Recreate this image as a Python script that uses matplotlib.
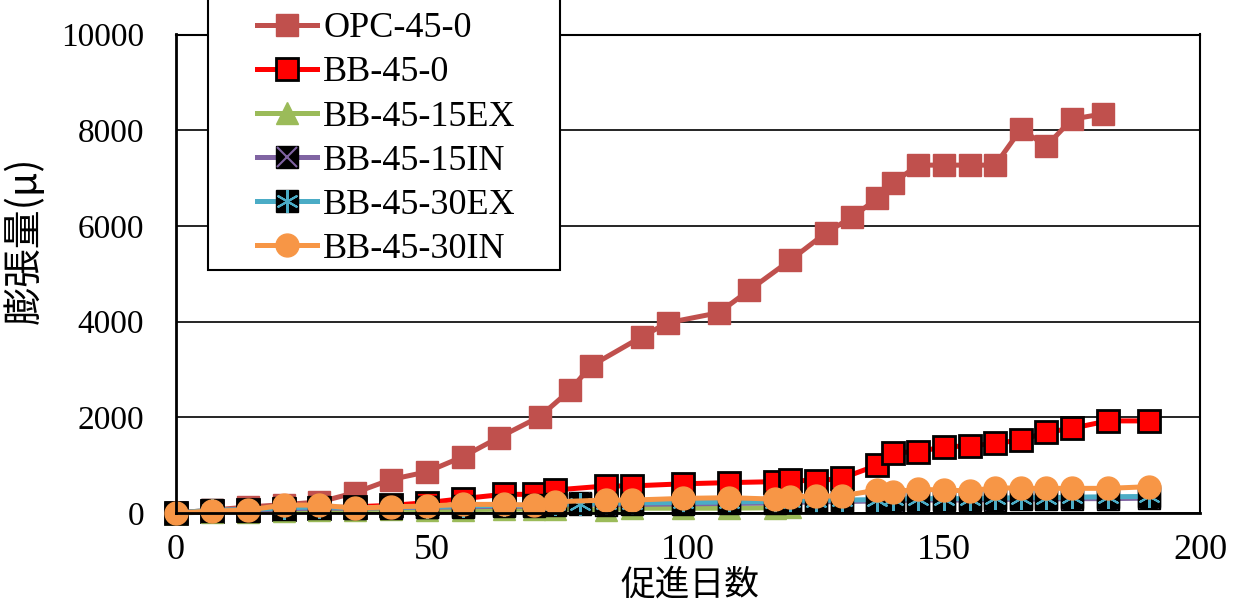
import matplotlib.pyplot as plt
from matplotlib.legend_handler import HandlerTuple
from matplotlib.patches import Rectangle

# expansion (micro-strain) vs. accelerated curing days
opc_days = [0, 7, 14, 21, 28, 35, 42, 49, 56, 63, 71, 77, 81, 91, 96, 106, 112,
            120, 127, 132, 137, 140, 145, 150, 155, 160, 165, 170, 175, 181]
opc_vals = [0, 60, 125, 175, 230, 425, 700, 860, 1175, 1575, 2010, 2570, 3070,
            3685, 3975, 4185, 4660, 5285, 5860, 6180, 6575, 6900, 7270, 7270,
            7270, 7270, 8020, 7670, 8230, 8340]

bb_days = [0, 7, 14, 21, 28, 35, 42, 49, 56, 64, 70, 74, 84, 89, 99, 108, 117,
           120, 125, 130, 137, 140, 145, 150, 155, 160, 165, 170, 175, 182, 190]
bb0_vals = [0, 40, 60, 80, 100, 130, 160, 215, 300, 390, 390, 480, 565, 565,
            610, 635, 655, 685, 670, 725, 1000, 1260, 1280, 1385, 1400, 1455,
            1525, 1685, 1770, 1925, 1925]
in30_vals = [0, 40, 60, 165, 165, 100, 130, 145, 180, 180, 165, 235, 270, 270,
             305, 320, 290, 340, 355, 355, 480, 445, 495, 480, 460, 530, 515,
             515, 515, 515, 550]

ex15_days = [0, 7, 14, 21, 28, 35, 42, 49, 56, 64, 70, 74, 84, 89, 99, 108, 117, 120]
ex15_vals = [0, 20, 30, 50, 60, 70, 80, 70, 70, 80, 80, 90, 60, 100, 100, 100,
             110, 120]

sq_days = [0, 7, 14, 21, 28, 35, 42, 49, 56, 64, 70, 74, 79, 84, 89, 99, 108,
           117, 120, 125, 130, 137, 140, 145, 150, 155, 160, 165, 170, 175, 182, 190]
in15_vals = [0, 40, 50, 90, 100, 100, 110, 120, 130, 140, 140, 160, 200, 170,
             180, 190, 200, 210, 220, 230, 240, 250, 260, 270, 270, 270, 280,
             290, 290, 300, 300, 310]
ex30_vals = [0, 60, 70, 110, 130, 110, 120, 130, 150, 160, 160, 180, 190, 200,
             210, 220, 230, 240, 250, 260, 270, 280, 290, 300, 300, 300, 310,
             320, 320, 330, 340, 345]

labels = ['OPC-45-0', 'BB-45-0', 'BB-45-15EX', 'BB-45-15IN', 'BB-45-30EX',
          'BB-45-30IN']

plt.rcParams['font.family'] = ['Liberation Serif', 'Noto Sans CJK JP']
plt.rcParams['font.size'] = 24

W, H = 1237, 602
fig = plt.figure(figsize=(W / 100, H / 100), dpi=100)
ax = fig.add_axes([176 / W, 1 - 513 / H, 1024 / W, 478.5 / H])

ms = 16.5
lw = 3.6
kw = dict(clip_on=False)
h_opc, = ax.plot(opc_days, opc_vals, color='#C0504D', lw=lw, marker='s', ms=ms,
                 mec='#C0504D', **kw)
h_bb0, = ax.plot(bb_days, bb0_vals, color='#FF0000', lw=lw, marker='s', ms=ms,
                 mfc='#FF0000', mec='black', mew=2, **kw)
h_ex15, = ax.plot(ex15_days, ex15_vals, color='#9BBB59', lw=lw, marker='^', ms=ms,
                  mec='#9BBB59', **kw)

# black square markers with a coloured cross / asterisk on top
h_in15a, = ax.plot(sq_days, in15_vals, color='#8064A2', lw=lw, marker='s', ms=ms,
                   mfc='black', mec='black', **kw)
h_in15b, = ax.plot(sq_days, in15_vals, ls='none', marker='x', ms=ms - 2,
                   mec='#8064A2', mew=1.5, **kw)
h_ex30a, = ax.plot(sq_days, ex30_vals, color='#4BACC6', lw=lw, marker='s', ms=ms,
                   mfc='black', mec='black', **kw)
h_ex30b, = ax.plot(sq_days, ex30_vals, ls='none', marker=(6, 2, 0), ms=ms,
                   mec='#4BACC6', mew=1.5, **kw)
h_in30, = ax.plot(bb_days, in30_vals, color='#F79646', lw=lw, marker='o', ms=ms,
                  mec='#F79646', **kw)

ax.set_xlim(0, 200)
ax.set_ylim(0, 10000)
ax.set_xticks([0, 50, 100, 150, 200])
ax.set_yticks(range(0, 10001, 2000))
ax.tick_params(length=0)
ax.tick_params(axis='x', pad=15, labelsize=26)
ax.tick_params(axis='y', pad=23, labelsize=24)
ax.grid(axis='y', color='black', lw=1.2)
ax.set_axisbelow(True)
for sp in ax.spines.values():
    sp.set_color('black')
    sp.set_linewidth(1.5)
ax.spines['left'].set_linewidth(2)
ax.spines['bottom'].set_linewidth(2)

cjk = ['Noto Sans CJK JP']
ax.set_xlabel('促進日数', family=cjk, fontsize=25)
ax.xaxis.set_label_coords(0.502, -0.114)
ax.set_ylabel('膨張量(μ)', family=cjk, fontsize=28)
ax.yaxis.set_label_coords(-0.128, 0.57)

# legend box, its top runs past the figure edge
fig.patches.append(Rectangle((208 / W, 1 - 270 / H), 352 / W, 300 / H,
                             transform=fig.transFigure, facecolor='white',
                             edgecolor='black', lw=1.5, zorder=5))

handles = [h_opc, h_bb0, h_ex15, (h_in15a, h_in15b), (h_ex30a, h_ex30b), h_in30]
leg = fig.legend(handles, labels, loc='upper left',
                 bbox_to_anchor=(257 / W, 1 - 12 / H),
                 handler_map={tuple: HandlerTuple(ndivide=1, pad=0)},
                 handlelength=1.66, handletextpad=0.17, borderpad=0,
                 borderaxespad=0, labelspacing=0.30, frameon=False,
                 fontsize=26)
leg.set_zorder(6)

fig.savefig('out.png', dpi=100)
